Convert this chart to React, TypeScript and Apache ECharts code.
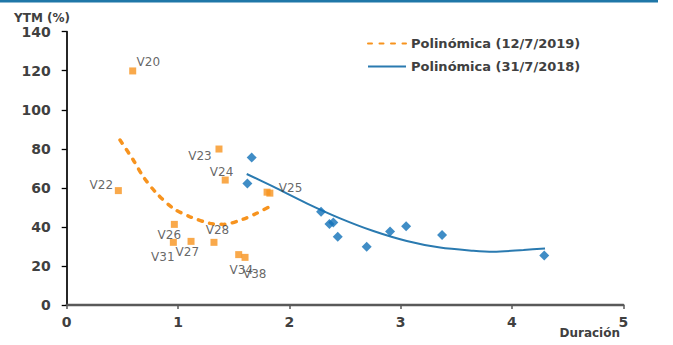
import React, { useEffect, useRef } from "react";
import * as echarts from "echarts";

// ---- Data ----
const names2019 = ["V20", "V22", "V23", "V24", "V25", "", "V26", "V31", "V27", "V28", "V34", "V38"];
const dur2019 = [0.593, 0.464, 1.368, 1.424, 1.8, 1.825, 0.967, 0.958, 1.117, 1.323, 1.545, 1.602];
const ytm2019 = [119.9, 58.6, 79.9, 64.0, 57.8, 57.3, 41.3, 32.1, 32.6, 32.1, 25.8, 24.4];

const dur2018 = [1.662, 1.623, 2.285, 2.36, 2.395, 2.435, 2.695, 2.905, 3.049, 3.372, 4.29];
const ytm2018 = [75.5, 62.3, 47.8, 41.5, 42.2, 35.0, 29.9, 37.6, 40.3, 35.9, 25.3];

const trend2019X = [0.479, 0.598, 0.688, 0.808, 0.958, 1.108, 1.288, 1.407, 1.587, 1.707, 1.81];
const trend2019Y = [84.5, 74.3, 65.7, 57.2, 49.5, 45.2, 41.8, 41.3, 44.0, 47.0, 50.0];

const trend2018X = [1.617, 1.856, 2.156, 2.456, 2.755, 3.055, 3.354, 3.653, 3.833, 4.103, 4.297];
const trend2018Y = [67.1, 60.6, 52.1, 44.4, 37.9, 32.8, 29.4, 27.8, 27.3, 28.2, 29.0];

const legend2019 = "Polinómica (12/7/2019)";
const legend2018 = "Polinómica (31/7/2018)";
const yAxisTitle = "YTM (%)";
const xAxisTitle = "Duración";

// ---- Styles ----
const ORANGE = "#F7931E";
const BLUE_PT = "#1070B8";
const BLUE_LINE = "#2A7AB0";
const TEXT = "#404040";
const FONT = "DejaVu Sans";

const labelOffsets: Record<string, [number, number]> = {
  V20: [15.6, -9.3],
  V22: [-17, -6],
  V23: [-19, 7],
  V24: [-3.7, -8],
  V25: [23.5, -4],
  V26: [-5, 10.7],
  V31: [-10.5, 14.5],
  V27: [-3.7, 10.2],
  V28: [3.5, -12.3],
  V34: [2.6, 15.3],
  V38: [9.7, 17],
};

export default function App() {
  const ref = useRef<HTMLDivElement>(null);

  useEffect(() => {
    if (!ref.current) return;
    const chart = echarts.init(ref.current, undefined, { renderer: "svg" });

    const pts2019 = dur2019.map((d, i) => {
      const n = names2019[i];
      const off = labelOffsets[n] || [0, 0];
      return {
        name: n,
        value: [d, ytm2019[i]],
        label: { offset: off },
      };
    });
    const pts2018 = dur2018.map((d, i) => [d, ytm2018[i]]);
    const line2019 = trend2019X.map((x, i) => [x, trend2019Y[i]]);
    const line2018 = trend2018X.map((x, i) => [x, trend2018Y[i]]);

    chart.setOption({
      animation: false,
      backgroundColor: "#ffffff",
      textStyle: { fontFamily: FONT },
      grid: {
        left: 66.7,
        top: 31.7,
        right: 49.7,
        bottom: 40,
        containLabel: false,
        outerBoundsMode: "none",
      },
      legend: {
        orient: "vertical",
        left: 367,
        top: 37,
        padding: 0,
        itemWidth: 38,
        itemHeight: 14,
        itemGap: 10,
        itemStyle: { opacity: 0 },
        data: [legend2019, legend2018],
        textStyle: { fontFamily: FONT, fontWeight: "bold", fontSize: 13, color: TEXT },
      },
      xAxis: {
        type: "value",
        min: 0,
        max: 5,
        interval: 1,
        splitLine: { show: false },
        axisLine: { show: true, lineStyle: { color: "#595959", width: 2.3 } },
        axisTick: { show: true, length: 4, lineStyle: { color: "#595959", width: 1.5 } },
        axisLabel: { margin: 10, fontFamily: FONT, fontWeight: "bold", fontSize: 14, color: TEXT },
      },
      yAxis: {
        type: "value",
        min: 0,
        max: 140,
        interval: 20,
        splitLine: { show: false },
        axisLine: { show: true, lineStyle: { color: "#000000", width: 1.7 } },
        axisTick: { show: true, length: 5, lineStyle: { color: "#000000", width: 1.3 } },
        axisLabel: { margin: 16, fontFamily: FONT, fontWeight: "bold", fontSize: 14, color: TEXT },
      },
      graphic: [
        {
          type: "rect",
          shape: { x: 0, y: 0, width: 658, height: 2.5 },
          style: { fill: "#1F77A8" },
          silent: true,
        },
        {
          type: "text",
          x: 14,
          y: 17.5,
          style: {
            text: yAxisTitle,
            fontFamily: FONT,
            fontWeight: "bold",
            fontSize: 12,
            fill: TEXT,
            verticalAlign: "middle",
            align: "left",
          },
        },
        {
          type: "text",
          x: 620,
          y: 333,
          style: {
            text: xAxisTitle,
            fontFamily: FONT,
            fontWeight: "bold",
            fontSize: 12,
            fill: TEXT,
            verticalAlign: "middle",
            align: "right",
          },
        },
      ],
      series: [
        {
          name: legend2019,
          type: "line",
          data: line2019,
          smooth: 0.3,
          symbol: "none",
          lineStyle: { color: ORANGE, width: 3.5, type: [4, 7.5], cap: "round" },
          itemStyle: { color: ORANGE },
          z: 2,
        },
        {
          name: legend2018,
          type: "line",
          data: line2018,
          smooth: 0.3,
          symbol: "none",
          lineStyle: { color: BLUE_LINE, width: 2 },
          itemStyle: { color: BLUE_LINE },
          z: 2,
        },
        {
          name: "2019",
          type: "scatter",
          data: pts2019,
          symbol: "rect",
          symbolSize: 7,
          itemStyle: { color: ORANGE },
          label: {
            show: true,
            position: "inside",
            formatter: "{b}",
            fontFamily: FONT,
            fontSize: 12,
            color: TEXT,
            align: "center",
            verticalAlign: "middle",
          },
          z: 3,
        },
        {
          name: "2018",
          type: "scatter",
          data: pts2018,
          symbol: "diamond",
          symbolSize: 10,
          itemStyle: { color: BLUE_PT },
          z: 3,
        },
      ],
    });

    return () => chart.dispose();
  }, []);

  return (
    <div
      ref={ref}
      style={{ position: "absolute", left: 0, top: 0, width: 673, height: 345, background: "#fff" }}
    />
  );
}
